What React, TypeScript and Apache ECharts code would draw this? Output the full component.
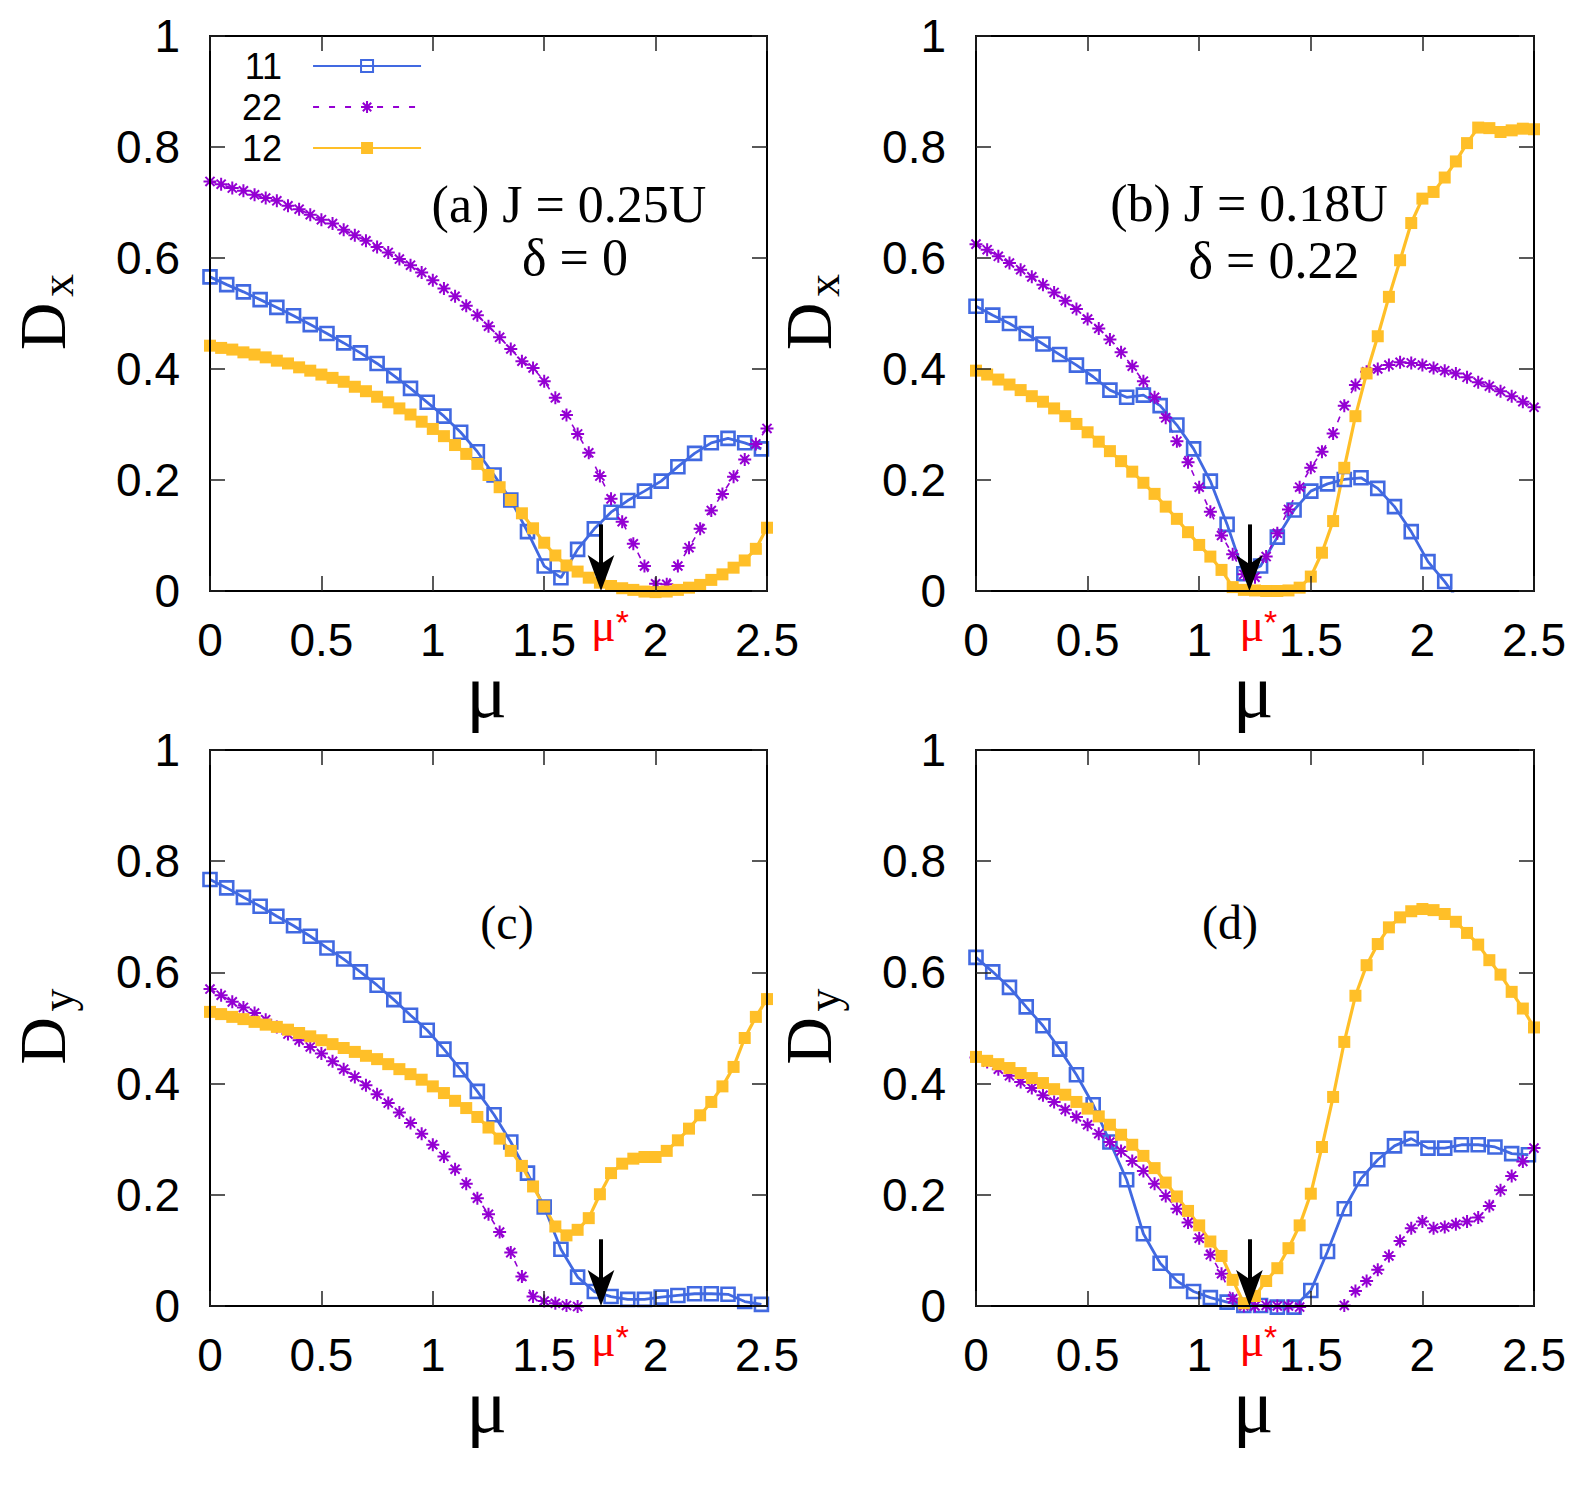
import React, { useEffect, useRef } from "react";
import * as echarts from "echarts";

// ---- sampling grids of mu (x) ----
const MU_FINE = Array.from({ length: 51 }, (_, i) => Math.round(i * 5) / 100); // step 0.05
const MU_COARSE = Array.from({ length: 34 }, (_, i) => Math.round(i * 75) / 1000); // step 0.075

const LEGEND_NAMES = ["11", "22", "12"];
const MU_STAR = [1.755, 1.225, 1.755, 1.225];
const ARROW_TOP = 0.12;

// ---- panel (a): D_x, J = 0.25U, delta = 0 ----
const A11 = [0.566, 0.552, 0.539, 0.525, 0.511, 0.496, 0.48, 0.464, 0.447, 0.429, 0.41, 0.388, 0.365, 0.34, 0.315, 0.286, 0.251, 0.209, 0.164, 0.107, 0.045, 0.024, 0.075, 0.112, 0.142, 0.163, 0.18, 0.198, 0.224, 0.248, 0.267, 0.275, 0.267, 0.256];
const A22 = [0.738, 0.733, 0.726, 0.721, 0.714, 0.708, 0.703, 0.694, 0.688, 0.678, 0.669, 0.662, 0.651, 0.641, 0.631, 0.62, 0.61, 0.598, 0.587, 0.574, 0.56, 0.545, 0.531, 0.514, 0.497, 0.477, 0.457, 0.436, 0.414, 0.402, 0.378, 0.348, 0.317, 0.283, 0.249, 0.207, 0.166, 0.125, 0.085, 0.045, 0.013, 0.012, 0.045, 0.078, 0.112, 0.145, 0.175, 0.206, 0.237, 0.265, 0.293];
const A12 = [0.442, 0.438, 0.435, 0.43, 0.426, 0.421, 0.415, 0.41, 0.403, 0.397, 0.39, 0.384, 0.377, 0.368, 0.36, 0.35, 0.34, 0.329, 0.318, 0.305, 0.292, 0.279, 0.263, 0.247, 0.229, 0.209, 0.187, 0.164, 0.14, 0.113, 0.087, 0.064, 0.046, 0.035, 0.024, 0.015, 0.009, 0.005, 0.002, -0.001, -0.002, -0.001, 0.002, 0.006, 0.011, 0.02, 0.03, 0.042, 0.055, 0.076, 0.114];

// ---- panel (b): D_x, J = 0.18U, delta = 0.22 ----
const B11 = [0.513, 0.497, 0.482, 0.464, 0.445, 0.426, 0.407, 0.386, 0.362, 0.349, 0.353, 0.334, 0.299, 0.256, 0.198, 0.12, 0.031, 0.045, 0.097, 0.146, 0.18, 0.193, 0.201, 0.204, 0.185, 0.152, 0.107, 0.053, 0.017, -0.025];
const B22 = [0.625, 0.615, 0.603, 0.591, 0.579, 0.566, 0.552, 0.538, 0.523, 0.508, 0.49, 0.473, 0.453, 0.43, 0.405, 0.378, 0.349, 0.312, 0.27, 0.232, 0.187, 0.143, 0.1, 0.066, 0.03, 0.025, 0.062, 0.104, 0.147, 0.187, 0.222, 0.251, 0.284, 0.334, 0.371, 0.395, 0.4, 0.407, 0.412, 0.411, 0.407, 0.402, 0.397, 0.392, 0.385, 0.376, 0.369, 0.36, 0.351, 0.341, 0.331];
const B12 = [0.397, 0.39, 0.381, 0.372, 0.362, 0.351, 0.341, 0.329, 0.315, 0.301, 0.286, 0.269, 0.252, 0.234, 0.215, 0.195, 0.175, 0.152, 0.13, 0.106, 0.083, 0.062, 0.038, 0.007, 0.002, 0.001, 0.0, 0.0, 0.001, 0.006, 0.026, 0.069, 0.126, 0.222, 0.315, 0.392, 0.459, 0.53, 0.596, 0.663, 0.707, 0.719, 0.745, 0.774, 0.807, 0.835, 0.834, 0.827, 0.83, 0.833, 0.832];

// ---- panel (c): D_y, J = 0.25U, delta = 0 ----
const C11 = [0.767, 0.752, 0.735, 0.719, 0.701, 0.684, 0.665, 0.644, 0.624, 0.601, 0.577, 0.551, 0.523, 0.496, 0.462, 0.425, 0.386, 0.344, 0.295, 0.239, 0.178, 0.102, 0.052, 0.026, 0.017, 0.012, 0.012, 0.016, 0.019, 0.022, 0.022, 0.021, 0.008, 0.003];
const C22 = [0.57, 0.559, 0.547, 0.537, 0.527, 0.515, 0.502, 0.489, 0.478, 0.466, 0.454, 0.44, 0.426, 0.412, 0.397, 0.381, 0.365, 0.348, 0.329, 0.31, 0.29, 0.269, 0.246, 0.22, 0.194, 0.165, 0.133, 0.096, 0.053, 0.017, 0.009, 0.005, 0.001, -0.001];
const C12 = [0.529, 0.525, 0.52, 0.516, 0.511, 0.506, 0.502, 0.497, 0.491, 0.485, 0.478, 0.471, 0.464, 0.457, 0.45, 0.444, 0.435, 0.426, 0.417, 0.407, 0.395, 0.383, 0.369, 0.356, 0.34, 0.321, 0.301, 0.279, 0.252, 0.215, 0.179, 0.143, 0.127, 0.137, 0.158, 0.201, 0.239, 0.256, 0.265, 0.268, 0.268, 0.279, 0.298, 0.319, 0.343, 0.367, 0.395, 0.43, 0.482, 0.52, 0.552];

// ---- panel (d): D_y, J = 0.18U, delta = 0.22 ----
const D11 = [0.627, 0.601, 0.573, 0.538, 0.504, 0.462, 0.416, 0.362, 0.295, 0.227, 0.13, 0.077, 0.045, 0.026, 0.015, 0.007, 0.001, 0.001, -0.002, -0.002, 0.028, 0.098, 0.175, 0.229, 0.263, 0.288, 0.301, 0.284, 0.284, 0.29, 0.29, 0.286, 0.274, 0.272];
const D22 = [0.447, 0.439, 0.426, 0.414, 0.403, 0.392, 0.379, 0.367, 0.353, 0.34, 0.326, 0.31, 0.295, 0.279, 0.261, 0.243, 0.22, 0.198, 0.175, 0.15, 0.122, 0.092, 0.058, 0.013, 0.0, 0.0, 0.001, 0.0, 0.0, -0.002, null, null, null, 0.001, 0.027, 0.045, 0.065, 0.09, 0.117, 0.14, 0.152, 0.14, 0.142, 0.147, 0.152, 0.159, 0.18, 0.208, 0.234, 0.26, 0.284];
const D12 = [0.448, 0.441, 0.435, 0.428, 0.419, 0.41, 0.401, 0.39, 0.38, 0.367, 0.355, 0.341, 0.326, 0.308, 0.29, 0.27, 0.248, 0.222, 0.197, 0.171, 0.145, 0.116, 0.09, 0.047, 0.005, 0.018, 0.045, 0.068, 0.104, 0.145, 0.202, 0.286, 0.376, 0.475, 0.558, 0.613, 0.651, 0.681, 0.699, 0.71, 0.714, 0.712, 0.705, 0.691, 0.671, 0.65, 0.622, 0.596, 0.565, 0.535, 0.501];

const BLUE = "#4169E1";
const PURPLE = "#9400D3";
const ORANGE = "#FFBF28";
const STAR = "path://M5 0L5 10M0 5L10 5M1.5 1.5L8.5 8.5M8.5 1.5L1.5 8.5";

const SANS = "Liberation Sans";
const SERIF = "Liberation Serif";

const PANELS = [
  { grid: { left: 210, top: 36, width: 557, height: 555 }, y11: A11, y22: A22, y12: A12, sub: "x", clip11: false },
  { grid: { left: 976, top: 36, width: 558, height: 555 }, y11: B11, y22: B22, y12: B12, sub: "x", clip11: true },
  { grid: { left: 210, top: 750, width: 557, height: 556 }, y11: C11, y22: C22, y12: C12, sub: "y", clip11: false },
  { grid: { left: 976, top: 750, width: 558, height: 556 }, y11: D11, y22: D22, y12: D12, sub: "y", clip11: false },
];

const zip = (xs: number[], ys: (number | null)[]) =>
  ys.map((y, i) => [xs[i], y === null ? "-" : y]);

function buildOption() {
  const grid: any[] = [];
  const xAxis: any[] = [];
  const yAxis: any[] = [];
  const series: any[] = [];
  const graphic: any[] = [];

  const axisLine = { show: true, onZero: false, lineStyle: { color: "#000", width: 2 } };
  const axisTick = { show: true, inside: true, length: 15, lineStyle: { color: "#222", width: 1.5 } };

  PANELS.forEach((p, k) => {
    grid.push({ ...p.grid, show: false, containLabel: false });
    xAxis.push({
      type: "value", gridIndex: k, position: "bottom", min: 0, max: 2.5, interval: 0.5, z: 5,
      axisLine, axisTick, splitLine: { show: false },
      axisLabel: { show: true, margin: 26, fontSize: 46, fontFamily: SANS, color: "#000" },
    });
    xAxis.push({
      type: "value", gridIndex: k, position: "top", min: 0, max: 2.5, interval: 0.5, z: 5,
      axisLine, axisTick, splitLine: { show: false }, axisLabel: { show: false },
    });
    yAxis.push({
      type: "value", gridIndex: k, position: "left", min: 0, max: 1, interval: 0.2, z: 5,
      axisLine, axisTick, splitLine: { show: false },
      axisLabel: { show: true, margin: 30, fontSize: 46, fontFamily: SANS, color: "#000" },
    });
    yAxis.push({
      type: "value", gridIndex: k, position: "right", min: 0, max: 1, interval: 0.2, z: 5,
      axisLine, axisTick, splitLine: { show: false }, axisLabel: { show: false },
    });

    const ax = { xAxisIndex: 2 * k, yAxisIndex: 2 * k };
    series.push({
      type: "line", name: "11", ...ax, data: zip(MU_COARSE, p.y11),
      symbol: "rect", symbolSize: 13, showSymbol: true, showAllSymbol: true,
      lineStyle: { color: BLUE, width: 2.8 },
      itemStyle: { color: "transparent", borderColor: BLUE, borderWidth: 2.6 },
      clip: p.clip11, z: 2, emphasis: { disabled: true },
    });
    series.push({
      type: "line", name: "22", ...ax, data: zip(MU_FINE, p.y22),
      symbol: STAR, symbolSize: 13, showSymbol: true, showAllSymbol: true,
      lineStyle: { color: PURPLE, width: 1.6, type: [6, 10] },
      itemStyle: { color: "transparent", borderColor: PURPLE, borderWidth: 2 },
      clip: false, z: 2, emphasis: { disabled: true },
    });
    series.push({
      type: "line", name: "12", ...ax, data: zip(MU_FINE, p.y12),
      symbol: "rect", symbolSize: 12, showSymbol: true, showAllSymbol: true,
      lineStyle: { color: ORANGE, width: 3.2 },
      itemStyle: { color: ORANGE },
      clip: false, z: 2, emphasis: { disabled: true },
    });
    const mu = MU_STAR[k];
    series.push({
      type: "line", name: "mu*", ...ax, data: [[mu, 0]], symbol: "none",
      lineStyle: { width: 0, opacity: 0 }, clip: false, z: 6, silent: true,
      markLine: {
        silent: true, symbol: ["none", "none"], label: { show: false },
        lineStyle: { color: "#000", width: 4, type: "solid" },
        data: [[{ coord: [mu, ARROW_TOP] }, { coord: [mu, 0.03] }]],
      },
      markPoint: {
        silent: true,
        data: [
          {
            coord: [mu, 0], symbol: "arrow", symbolSize: [20, 36], symbolRotate: 180,
            symbolOffset: [0, 0], itemStyle: { color: "#000" }, label: { show: false },
          },
          {
            coord: [mu, 0], symbol: "circle", symbolSize: 1, itemStyle: { color: "transparent" },
            label: {
              show: true, position: "inside", offset: [9, 34], formatter: "{m|μ}{s|*}",
              rich: {
                m: { fontFamily: SERIF, fontSize: 46, lineHeight: 40, color: "#FF0000" },
                s: { fontFamily: SANS, fontSize: 34, lineHeight: 34, color: "#FF0000", verticalAlign: "top" },
              },
            },
          },
        ],
      },
    });

    // x-axis title mu
    graphic.push({
      type: "text", x: p.grid.left + p.grid.width / 2 - 2, y: p.grid.top + p.grid.height + 100,
      style: { text: "μ", fontFamily: SERIF, fontSize: 76, lineHeight: 54, fill: "#000", align: "center", verticalAlign: "middle" },
    });

    // y-axis title D_x / D_y (rotated)
    const cy = p.grid.top + p.grid.height / 2 - 1;
    const cx = p.grid.left - 168;
    graphic.push({
      type: "group", x: cx, y: cy, rotation: Math.PI / 2,
      children: [
        { type: "text", x: -14, y: 0, style: { text: "D", fontFamily: SERIF, fontSize: 66, fill: "#000", align: "center", verticalAlign: "middle" } },
        { type: "text", x: 27, y: 15, style: { text: p.sub, fontFamily: SERIF, fontSize: 46, fill: "#000", align: "center", verticalAlign: "middle" } },
      ],
    });
  });

  const label = (text: string, x: number, y: number, size: number) => ({
    type: "text", x, y, z: 10,
    style: { text, fontFamily: SERIF, fontSize: size, fill: "#000", align: "center", verticalAlign: "middle" },
  });
  graphic.push(label("(a) J = 0.25U", 569, 204, 52));
  graphic.push(label("δ = 0", 575, 257, 52));
  graphic.push(label("(b) J = 0.18U", 1249, 203, 52));
  graphic.push(label("δ = 0.22", 1274, 260, 52));
  graphic.push(label("(c)", 507, 922, 48));
  graphic.push(label("(d)", 1230, 922, 48));

  return {
    animation: false,
    backgroundColor: "#fff",
    grid, xAxis, yAxis, series, graphic,
    legend: {
      data: LEGEND_NAMES, orient: "vertical", left: 242, top: 48, padding: 0,
      align: "right", itemWidth: 108, itemHeight: 15, itemGap: 5, selectedMode: false,
      textStyle: { fontSize: 36, fontFamily: SANS, color: "#000", lineHeight: 36, padding: [0, 26, 0, 0] },
    },
  };
}

export default function App() {
  const ref = useRef<HTMLDivElement>(null);
  useEffect(() => {
    if (!ref.current) return;
    const chart = echarts.init(ref.current, undefined, { renderer: "svg" });
    chart.setOption(buildOption() as any);
    return () => chart.dispose();
  }, []);
  return (
    <div
      ref={ref}
      style={{ position: "absolute", left: 0, top: 0, width: 1578, height: 1486, background: "#fff" }}
    />
  );
}
